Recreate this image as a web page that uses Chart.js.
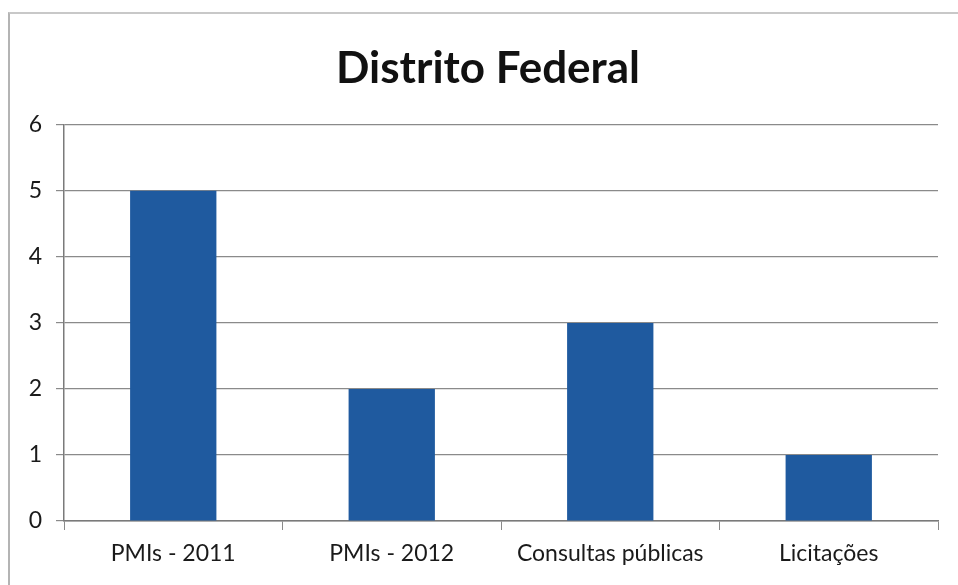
<!DOCTYPE html>
<html>
<head>
<meta charset="utf-8">
<script src="https://cdn.jsdelivr.net/npm/chart.js@4"></script>
<style>
  html, body { margin: 0; padding: 0; background: #fff; }
  #wrap { position: relative; width: 958px; height: 585px; }
  #frame {
    position: absolute; left: 8px; top: 12px; right: -2px; bottom: -2px;
    border-left: 2px solid #b4b4b4; border-top: 2px solid #c8c8c8;
    pointer-events: none;
  }
</style>
</head>
<body>
<div id="wrap">
  <canvas id="chart" width="958" height="585"></canvas>
  <div id="frame"></div>
</div>
<script>
const categories = ['PMIs - 2011', 'PMIs - 2012', 'Consultas públicas', 'Licitações'];
const values = [5, 2, 3, 1];
const yTicks = [0, 1, 2, 3, 4, 5, 6];

// the original title sits a bit right of the canvas centre
const shiftTitle = {
  id: 'shiftTitle',
  afterLayout(chart) {
    const t = chart.titleBlock;
    if (t) { t.left = 18; t.right = 958; }
  }
};

const ctx = document.getElementById('chart').getContext('2d');
new Chart(ctx, {
  type: 'bar',
  data: {
    labels: categories,
    datasets: [{
      data: values,
      backgroundColor: '#1f5a9f',
      borderWidth: 0,
      barPercentage: 0.395,
      categoryPercentage: 1
    }]
  },
  options: {
    responsive: false,
    animation: false,
    layout: { padding: { left: 0, right: 20, top: 0, bottom: 0 } },
    plugins: {
      legend: { display: false },
      tooltip: { enabled: false },
      title: {
        display: true,
        text: 'Distrito Federal',
        color: '#111',
        font: { family: 'Lato', size: 44, weight: 'bold', lineHeight: 1.2 },
        padding: { top: 42, bottom: 30 }
      }
    },
    scales: {
      x: {
        grid: {
          offset: true,
          drawOnChartArea: false,
          drawTicks: true,
          tickLength: 9,
          color: '#8a8a8a'
        },
        border: { color: '#7a7a7a', width: 1.5 },
        ticks: {
          color: '#1a1a1a',
          font: { family: 'Lato', size: 23 },
          padding: 10
        },
        afterFit: scale => { scale.height = 64; }
      },
      y: {
        min: 0,
        max: 6,
        afterBuildTicks: scale => { scale.ticks = yTicks.map(v => ({ value: v })); },
        grid: {
          color: '#8a8a8a',
          lineWidth: 1.2,
          tickLength: 8
        },
        border: { color: '#7a7a7a', width: 1.5 },
        ticks: {
          color: '#1a1a1a',
          font: { family: 'Lato', size: 23 },
          padding: 14
        },
        afterFit: scale => { scale.width = 64; }
      }
    }
  },
  plugins: [shiftTitle]
});
</script>
</body>
</html>
